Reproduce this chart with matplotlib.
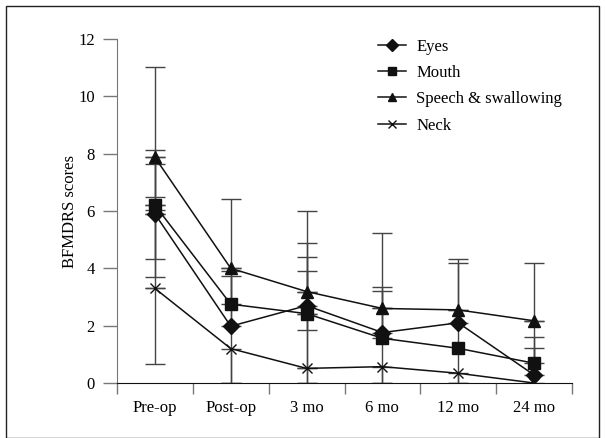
import numpy as np
import matplotlib
matplotlib.use("Agg")
import matplotlib.pyplot as plt
from matplotlib.patches import Rectangle

# dados
timepoints = ["Pre-op", "Post-op", "3 mo", "6 mo", "12 mo", "24 mo"]
series_names = ["Eyes", "Mouth", "Speech & swallowing", "Neck"]
eyes = [5.90, 1.98, 2.70, 1.76, 2.10, 0.28]
mouth = [6.20, 2.75, 2.42, 1.56, 1.21, 0.69]
speech = [7.87, 4.00, 3.19, 2.60, 2.55, 2.17]
neck = [3.30, 1.20, 0.51, 0.57, 0.34, 0.00]

# barras de erro (inferior, superior); 0 = sem barra
eyes_lo = [2.21, 0.00, 0.00, 0.00, 0.00, 0.00]
eyes_up = [2.24, 1.77, 2.18, 1.58, 2.08, 0.95]
mouth_lo = [1.88, 0.00, 0.57, 0.00, 0.00, 0.00]
mouth_up = [1.45, 1.15, 1.97, 1.65, 0.00, 0.93]
speech_lo = [1.38, 4.00, 3.19, 2.60, 2.55, 2.17]
speech_up = [3.14, 2.42, 2.82, 2.63, 1.78, 2.01]
neck_lo = [2.65, 1.20, 0.51, 0.57, 0.34, 0.00]
neck_up = [2.74, 0.00, 3.38, 0.00, 0.00, 0.00]

SERIF = "Liberation Serif"
x = np.arange(len(timepoints))

fig = plt.figure(figsize=(6.05, 4.38), dpi=100)
ax = fig.add_axes([117 / 605, 1 - 383 / 438, (572 - 117) / 605, (383 - 39) / 438])


def draw_err(vals, lo, up):
    for xi, v, l, u in zip(x, vals, lo, up):
        for err in ([[l], [0]], [[0], [u]]):
            if max(err[0][0], err[1][0]) <= 0:
                continue
            ax.errorbar([xi], [v], yerr=err, fmt="none", ecolor="#444444",
                        elinewidth=1.0, capsize=7, capthick=1.0, zorder=1)


styles = [
    (eyes, eyes_lo, eyes_up, "D", 8),
    (mouth, mouth_lo, mouth_up, "s", 8),
    (speech, speech_lo, speech_up, "^", 8),
    (neck, neck_lo, neck_up, "x", 7),
]
for name, (vals, lo, up, mk, ms) in zip(series_names, styles):
    draw_err(vals, lo, up)
    ax.plot(x, vals, color="#111111", lw=1.1, marker=mk, markersize=ms,
            markerfacecolor="#111111", markeredgecolor="#111111",
            markeredgewidth=1.0, label=name, zorder=3)

ax.set_xlim(-0.5, 5.5)
ax.set_ylim(0, 12)
ax.set_yticks(range(0, 13, 2))
ax.set_yticklabels([str(v) for v in range(0, 13, 2)], family=SERIF, fontsize=12)
ax.set_xticks(np.arange(-0.5, 6, 1))
ax.set_xticklabels([])
ax.set_xticks(x, minor=True)
ax.set_xticklabels(timepoints, minor=True, family=SERIF, fontsize=12)
ax.tick_params(axis="x", which="major", length=8, width=1.0, color="#777777")
ax.tick_params(axis="x", which="minor", length=0, pad=12)
ax.tick_params(axis="y", length=10, width=1.0, color="#777777", pad=6)
for s in ("top", "right"):
    ax.spines[s].set_visible(False)
ax.spines["left"].set_color("#777777")
ax.spines["bottom"].set_color("#111111")
ax.set_ylabel("BFMDRS scores", family=SERIF, fontsize=12, labelpad=0)

ax.legend(loc="upper left", bbox_to_anchor=(0.54, 1.045), frameon=False,
          prop={"family": SERIF, "size": 12}, handlelength=1.7,
          handletextpad=0.6, labelspacing=0.62, markerscale=0.75)

fig.add_artist(Rectangle((6 / 605, 0.5 / 438), 593 / 605, 432 / 438,
                         transform=fig.transFigure, fill=False,
                         edgecolor="#222222", lw=1.0))

fig.savefig("out.png", dpi=100)
